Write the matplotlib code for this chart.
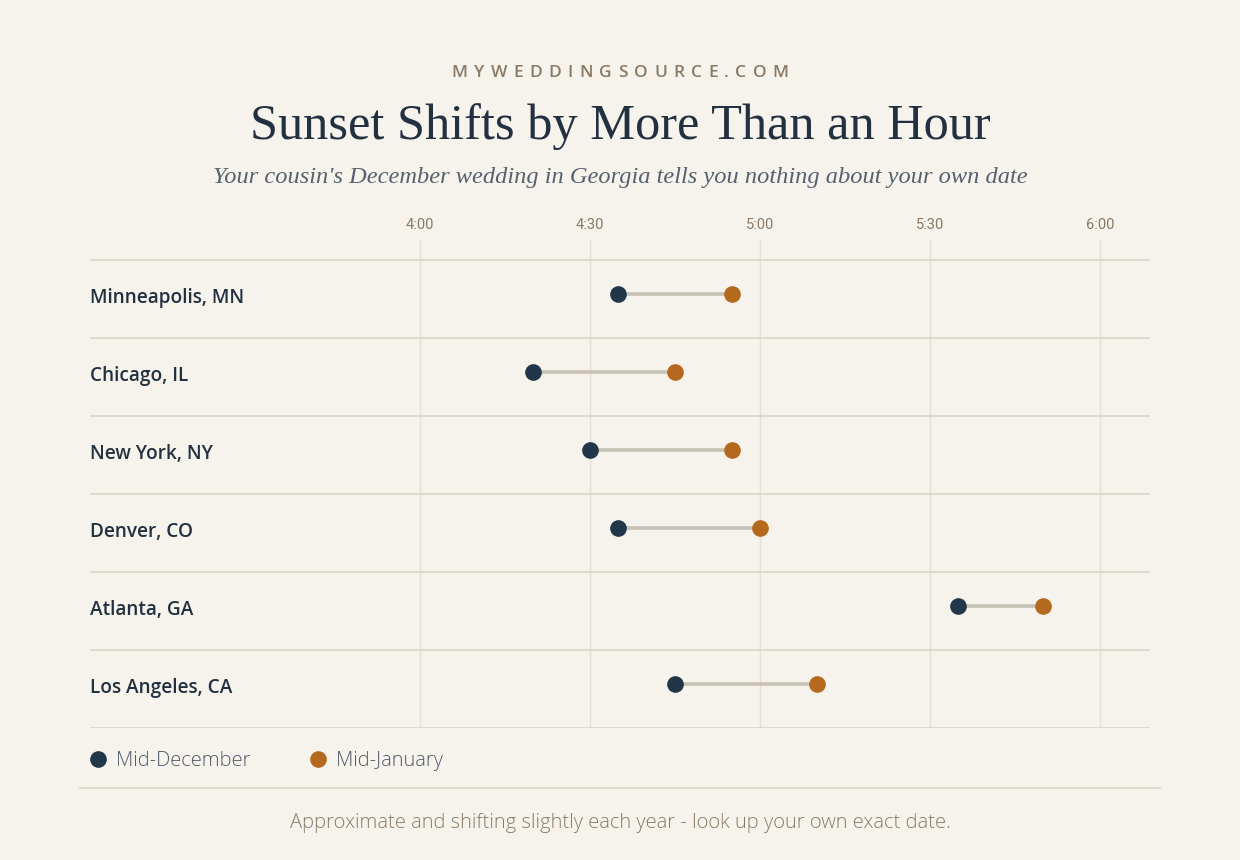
import matplotlib.pyplot as plt
from matplotlib.lines import Line2D

# -----------------------------
# DATA
# -----------------------------
cities = ["Minneapolis, MN", "Chicago, IL", "New York, NY",
          "Denver, CO", "Atlanta, GA", "Los Angeles, CA"]
mid_december = ["4:35", "4:20", "4:30", "4:35", "5:35", "4:45"]
mid_january = ["4:55", "4:45", "4:55", "5:00", "5:50", "5:10"]
tick_labels = ["4:00", "4:30", "5:00", "5:30", "6:00"]

# -----------------------------
# STYLE
# -----------------------------
BG = "#f6f2ec"
DEC = "#22364a"
JAN = "#b5691f"
CONNECT = "#c8c2b6"
ROWLINE = "#d8d1c4"
GRID = "#e6e0d6"
MUTED = "#8a7a66"
INK = "#22303f"

W, H = 1240, 860


def to_min(s):
    h, m = s.split(":")
    return (int(h) - 4) * 60 + int(m)


def fx(px):
    return px / W


def fy(py):
    return 1 - py / H


dec = [to_min(t) for t in mid_december]
jan = [to_min(t) for t in mid_january]
ticks = [to_min(t) for t in tick_labels]

fig = plt.figure(figsize=(12.4, 8.6), dpi=100, facecolor=BG)

# plot area: x 90..1150 px, y 240..728 px
ax = fig.add_axes([fx(90), fy(728), fx(1150) - fx(90), fy(240) - fy(728)])
ax.set_facecolor(BG)

# px 420 -> 0 min, 170 px per 30 min
px_per_min = 170 / 30
ax.set_xlim((90 - 420) / px_per_min, (1150 - 420) / px_per_min)
row_h = 78
ax.set_ylim(len(cities) - 0.5, -0.5 - 20 / row_h)

for s in ax.spines.values():
    s.set_visible(False)

# vertical grid
for t in ticks:
    ax.axvline(t, color=GRID, lw=1, zorder=0)

# row separators
for i in range(len(cities) + 1):
    ax.axhline(i - 0.5, color=ROWLINE, lw=1.1, zorder=1)

ax.xaxis.tick_top()
ax.set_xticks(ticks)
ax.set_xticklabels(tick_labels, fontsize=10.5, color=MUTED, family="Roboto")
ax.tick_params(axis="x", length=0, pad=6)
ax.set_yticks([])

off = -0.065
for i, city in enumerate(cities):
    y = i + off
    ax.plot([dec[i], jan[i]], [y, y], color=CONNECT, lw=2.6,
            solid_capstyle="butt", zorder=2)
    ax.plot(dec[i], y, "o", color=DEC, ms=12, mec="none", zorder=3)
    ax.plot(jan[i], y, "o", color=JAN, ms=12, mec="none", zorder=3)
    ax.text(ax.get_xlim()[0], i - 0.01, city, ha="left", va="center",
            fontsize=13.7, color=INK, family="Open Sans", fontweight="semibold")

# -----------------------------
# HEADER
# -----------------------------
brand = "MYWEDDINGSOURCE.COM"
fig.canvas.draw()
r = fig.canvas.get_renderer()
widths = []
for ch in brand:
    t = fig.text(0, 0, ch, fontsize=12.5, family="Open Sans", fontweight="semibold")
    widths.append(t.get_window_extent(r).width)
    t.remove()
target = 337
track = (target - sum(widths)) / (len(brand) - 1)
x = 620 - target / 2
for ch, w in zip(brand, widths):
    fig.text(fx(x), fy(73), ch, fontsize=12.5, family="Open Sans",
             fontweight="semibold", color=MUTED, ha="left", va="center")
    x += w + track

fig.text(0.5, fy(127), "Sunset Shifts by More Than an Hour", ha="center",
         va="center", fontsize=36.3, color=INK, family="Liberation Serif")
fig.text(0.5, fy(177),
         "Your cousin's December wedding in Georgia tells you nothing about your own date",
         ha="center", va="center", fontsize=17.6, color="#56606e",
         family="Liberation Serif", style="italic")

# -----------------------------
# LEGEND + FOOTER
# -----------------------------
fig.add_artist(Line2D([fx(98)], [fy(759)], marker="o", color=DEC, ms=12,
                      mec="none", transform=fig.transFigure))
fig.text(fx(116), fy(761), "Mid-December", ha="left", va="center",
         fontsize=14.5, color="#505967", family="Open Sans", fontweight="light")
fig.add_artist(Line2D([fx(318)], [fy(759)], marker="o", color=JAN, ms=12,
                      mec="none", transform=fig.transFigure))
fig.text(fx(336), fy(761), "Mid-January", ha="left", va="center",
         fontsize=14.5, color="#505967", family="Open Sans", fontweight="light")

fig.add_artist(Line2D([fx(80), fx(1160)], [fy(788), fy(788)], color=ROWLINE,
                      lw=1.1, transform=fig.transFigure))
fig.text(0.5, fy(823),
         "Approximate and shifting slightly each year - look up your own exact date.",
         ha="center", va="center", fontsize=14.5, color=MUTED,
         family="Open Sans", fontweight="light")

fig.savefig("out.png", dpi=100, facecolor=BG)
